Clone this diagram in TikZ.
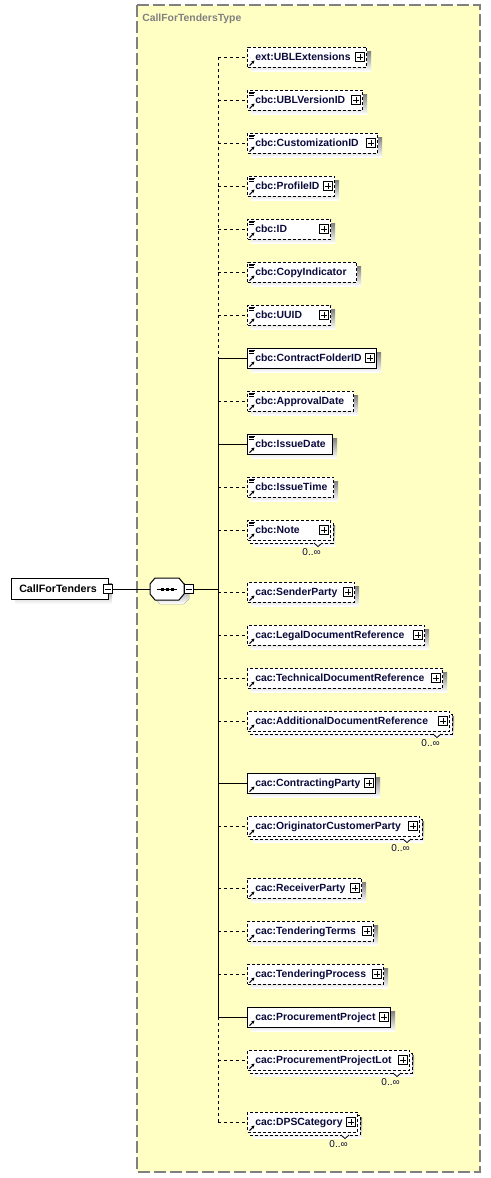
\documentclass[tikz,border=0pt]{standalone}
\usepackage{fontspec}
\setmainfont{Liberation Sans}
\usetikzlibrary{arrows.meta}
\definecolor{ybg}{RGB}{255,255,196}
\definecolor{yborder}{RGB}{128,128,128}
\definecolor{shade}{RGB}{192,192,192}
\definecolor{dark}{RGB}{0,0,0}
\definecolor{navy}{RGB}{10,10,60}
\definecolor{titlegrey}{RGB}{128,128,128}
\tikzset{
 elbox/.style={draw=dark, fill=white, line width=0.75pt, minimum height=15pt, inner sep=0pt},
 optb/.style={dash pattern=on 2.25pt off 1.5pt},
 reqb/.style={solid},
 optl/.style={draw=dark, line width=0.75pt, dash pattern=on 2.25pt off 2.25pt},
 reql/.style={draw=dark, line width=0.75pt},
 lbl/.style={inner sep=0pt, font=\fontsize{7.8}{9}\selectfont\bfseries, text=navy},
 occ/.style={inner sep=0pt, font=\fontsize{7.5}{9}\selectfont, text=navy},
 pmbox/.style={draw=dark, fill=white, line width=0.6pt, minimum size=6.75pt, inner sep=0pt},
 plusbox/.style={pmbox, path picture={\draw[line width=0.6pt] ([yshift=1.3pt]path picture bounding box.south) -- ([yshift=-1.3pt]path picture bounding box.north); \draw[line width=0.6pt] ([xshift=1.3pt]path picture bounding box.west) -- ([xshift=-1.3pt]path picture bounding box.east);}},
 minusbox/.style={pmbox, path picture={\draw[line width=0.6pt] ([xshift=1.3pt]path picture bounding box.west) -- ([xshift=-1.3pt]path picture bounding box.east);}},
 refarr/.style={line width=0.8pt, draw=dark, -{Stealth[length=2.4pt,width=2.6pt]}},
 icon/.style={line width=0.5pt, draw=dark},
 ctbox/.style={fill=ybg, draw=yborder, line width=1.4pt, dash pattern=on 9pt off 3pt},
 title/.style={inner sep=0pt, font=\fontsize{7.8}{9}\selectfont\bfseries, text=titlegrey},
}
% #1 id, #2 y, #3 right x, #4 label, #5 opt/req, #6 simple icon, #7 multi, #8 plus
\newcommand{\El}[8]{%
  \ifnum#7=1
    \fill[shade] (253,#2-5) rectangle (#3+5,#2+16);
    \draw[elbox,#5b] (250,#2-7) rectangle (#3+3,#2+13);
  \else
    \fill[shade] (251,#2-6) rectangle (#3+5,#2+14);
  \fi
  \node[elbox,#5b,minimum width={(#3-247)*0.75pt},anchor=west] (#1) at (247,#2) {};
  \node[lbl,anchor=base west] (#1-t) at (255,#2+3.7) {#4};
  \coordinate (#1-j) at (218,#2);
  \draw[#5l] (#1-j) -- (#1.west);
  \draw[refarr] (249.5,#2+8.5) -- (254.5,#2+3.5);
  \ifnum#6=1
    \draw[icon] (249,#2-8) -- (255,#2-8) (249,#2-6.5) -- (254,#2-6.5) (249,#2-5) -- (254,#2-5);
  \fi
  \ifnum#8=1
    \node[plusbox] (#1-p) at (#3-6,#2) {};
  \fi
  \ifnum#7=1
    \draw[line width=0.6pt,draw=dark,fill=white] (#3-16,#2+13) -- (#3-12,#2+16.5) -- (#3-8,#2+13);
    \node[occ,anchor=base east] (#1-o) at (#3-9,#2+25.5) {0..∞};
  \fi
}
\begin{document}
\begin{tikzpicture}[x=0.75pt,y=-0.75pt]
\useasboundingbox (0,0) rectangle (491,1178);
% complex type box
\draw[ctbox] (137,5) rectangle (480,1172);
\node[title,anchor=base west] (title) at (142,21.5) {CallForTendersType};
% spine
\coordinate (j) at (218,589);
\coordinate (s1) at (218,57);
\coordinate (s8) at (218,358);
\coordinate (s22) at (218,1017);
\coordinate (s24) at (218,1122);
\draw[optl] (s1) -- (s8);
\draw[reql] (s8) -- (s22);
\draw[optl] (s22) -- (s24);
% root element
\fill[shade] (15,583) rectangle (112,604);
\node[elbox,minimum width=72.75pt,minimum height=15.75pt,anchor=west] (root) at (11,589) {};
\node[inner sep=0pt,font=\fontsize{8}{9}\selectfont\bfseries,anchor=base west] (root-t) at (19,592.5) {CallForTenders};
\node[minusbox] (root-m) at (108,589) {};
% sequence compositor
\fill[shade] (155,588) -- (160,583) -- (184,583) -- (189,588) -- (189,599) -- (184,604) -- (160,604) -- (155,599) -- cycle;
\node[minimum width=25.5pt,minimum height=16.5pt,inner sep=0pt] (seq) at (167,589) {};
\draw[line width=0.75pt,draw=dark,fill=white] (150,584) -- (155,578) -- (179,578) -- (184,584) -- (184,594) -- (179,600) -- (155,600) -- (150,594) -- cycle;
\draw[line width=0.75pt] (157,589) -- (177,589);
\fill[dark] (160.5,587.5) rectangle (163.5,590.5);
\fill[dark] (165.5,587.5) rectangle (168.5,590.5);
\fill[dark] (170.5,587.5) rectangle (173.5,590.5);
\node[minusbox] (seq-m) at (189,589) {};
\draw[reql] (root-m.east) -- (seq.west);
\draw[reql] (seq-m.east) -- (j);
% elements
\El{e1}{57}{366}{ext:UBLExtensions}{opt}{0}{0}{1}
\El{e2}{100}{362}{cbc:UBLVersionID}{opt}{1}{0}{1}
\El{e3}{143}{377}{cbc:CustomizationID}{opt}{1}{0}{1}
\El{e4}{186}{334}{cbc:ProfileID}{opt}{1}{0}{1}
\El{e5}{229}{330}{cbc:ID}{opt}{1}{0}{1}
\El{e6}{272}{356}{cbc:CopyIndicator}{opt}{1}{0}{0}
\El{e7}{315}{330}{cbc:UUID}{opt}{1}{0}{1}
\El{e8}{358}{376}{cbc:ContractFolderID}{req}{1}{0}{1}
\El{e9}{401}{353}{cbc:ApprovalDate}{opt}{1}{0}{0}
\El{e10}{444}{332}{cbc:IssueDate}{req}{1}{0}{0}
\El{e11}{487}{333}{cbc:IssueTime}{opt}{1}{0}{0}
\El{e12}{530}{330}{cbc:Note}{opt}{1}{1}{1}
\El{e13}{592}{354}{cac:SenderParty}{opt}{0}{0}{1}
\El{e14}{635}{424}{cac:LegalDocumentReference}{opt}{0}{0}{1}
\El{e15}{678}{442}{cac:TechnicalDocumentReference}{opt}{0}{0}{1}
\El{e16}{721}{449}{cac:AdditionalDocumentReference}{opt}{0}{1}{1}
\El{e17}{783}{375}{cac:ContractingParty}{req}{0}{0}{1}
\El{e18}{826}{419}{cac:OriginatorCustomerParty}{opt}{0}{1}{1}
\El{e19}{888}{361}{cac:ReceiverParty}{opt}{0}{0}{1}
\El{e20}{931}{373}{cac:TenderingTerms}{opt}{0}{0}{1}
\El{e21}{974}{383}{cac:TenderingProcess}{opt}{0}{0}{1}
\El{e22}{1017}{390}{cac:ProcurementProject}{req}{0}{0}{1}
\El{e23}{1060}{409}{cac:ProcurementProjectLot}{opt}{0}{1}{1}
\El{e24}{1122}{357}{cac:DPSCategory}{opt}{0}{1}{1}
\end{tikzpicture}
\end{document}
